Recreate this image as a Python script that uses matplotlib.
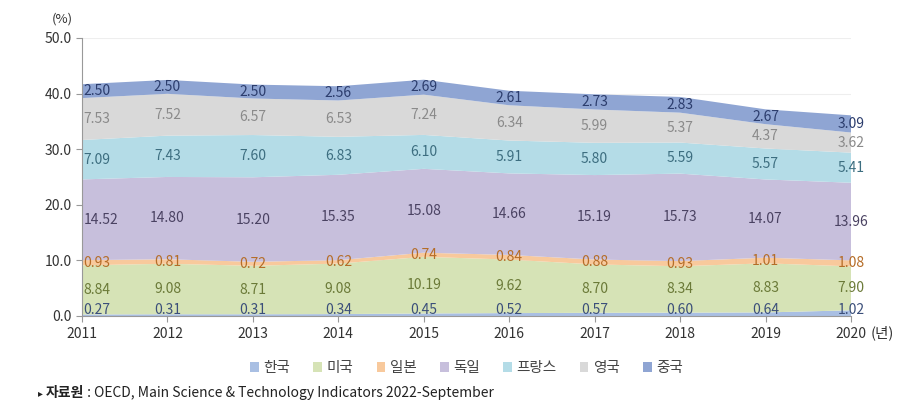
import numpy as np
import matplotlib.pyplot as plt

plt.rcParams['font.family'] = ['Noto Sans CJK KR', 'DejaVu Sans']

# 연도와 국가별 값 (%)
years = [2011, 2012, 2013, 2014, 2015, 2016, 2017, 2018, 2019, 2020]
countries = ['한국', '미국', '일본', '독일', '프랑스', '영국', '중국']
korea = [0.27, 0.31, 0.31, 0.34, 0.45, 0.52, 0.57, 0.60, 0.64, 1.02]
usa = [8.84, 9.08, 8.71, 9.08, 10.19, 9.62, 8.70, 8.34, 8.83, 7.90]
japan = [0.93, 0.81, 0.72, 0.62, 0.74, 0.84, 0.88, 0.93, 1.01, 1.08]
germany = [14.52, 14.80, 15.20, 15.35, 15.08, 14.66, 15.19, 15.73, 14.07, 13.96]
france = [7.09, 7.43, 7.60, 6.83, 6.10, 5.91, 5.80, 5.59, 5.57, 5.41]
uk = [7.53, 7.52, 6.57, 6.53, 7.24, 6.34, 5.99, 5.37, 4.37, 3.62]
china = [2.50, 2.50, 2.50, 2.56, 2.69, 2.61, 2.73, 2.83, 2.67, 3.09]

series = [korea, usa, japan, germany, france, uk, china]
fill_colors = ['#a9bfe3', '#d6e3b6', '#f8c99c', '#c7bfdc', '#b4dce7', '#d9d9d9', '#8fa5d3']
text_colors = ['#3b4f7a', '#6b7a38', '#b56d28', '#4a4262', '#3d6e80', '#8a8a8a', '#2c3d6d']

fig = plt.figure(figsize=(9.09, 4.15), dpi=100)
ax = fig.add_axes([0.0902, 0.2386, 0.846, 0.67])

ax.stackplot(years, *series, colors=fill_colors, labels=countries, linewidth=0)

# 데이터 레이블
bottom = np.zeros(len(years))
for vals, tc in zip(series, text_colors):
    vals = np.array(vals)
    mid = bottom + vals / 2
    for i, (x, v, m) in enumerate(zip(years, vals, mid)):
        y = max(m, 1.1) if tc == text_colors[0] else m
        if i == 0:
            ax.text(x + 0.02, y, f'{v:.2f}', ha='left', va='center', fontsize=10, color=tc)
        else:
            ax.text(x, y, f'{v:.2f}', ha='center', va='center', fontsize=10, color=tc)
    bottom += vals

ax.set_xlim(2011, 2020)
ax.set_ylim(0, 50)
ax.set_yticks(np.arange(0, 51, 10))
ax.set_yticklabels([f'{t:.1f}' for t in np.arange(0, 51, 10)], fontsize=10, color='#333333')
ax.set_xticks(years)
ax.set_xticklabels([str(y) for y in years], fontsize=10, color='#333333')
ax.grid(axis='y', color='#eeeeee', linewidth=0.8)
ax.set_axisbelow(True)
for s in ['top', 'right']:
    ax.spines[s].set_visible(False)
ax.spines['left'].set_color('#999999')
ax.spines['bottom'].set_color('#999999')
ax.tick_params(axis='both', color='#999999', length=4)
ax.tick_params(axis='x', pad=4)

fig.text(0.057, 0.955, '(%)', fontsize=9.5, color='#333333', ha='left', va='center')
fig.text(0.958, 0.198, '(년)', fontsize=10.5, color='#333333', ha='left', va='center')

leg = ax.legend(loc='upper center', bbox_to_anchor=(0.5, -0.115), ncol=7, frameon=False,
                fontsize=10.5, handlelength=0.6, handleheight=0.6, handletextpad=0.3,
                columnspacing=1.6, labelcolor='#444444')

# 출처
fig.text(0.042, 0.052, '▸', fontsize=7, color='#222222', ha='left', va='center',
         family=['DejaVu Sans'])
t1 = fig.text(0.050, 0.052, '자료원', fontsize=10, fontweight='bold', color='#222222',
              ha='left', va='center')
fig.canvas.draw()
bb = t1.get_window_extent()
x_next = bb.x1 / fig.bbox.width
fig.text(x_next, 0.052, ' : OECD, Main Science & Technology Indicators 2022-September',
         fontsize=10, color='#222222', ha='left', va='center')

fig.savefig('out.png', dpi=100)
